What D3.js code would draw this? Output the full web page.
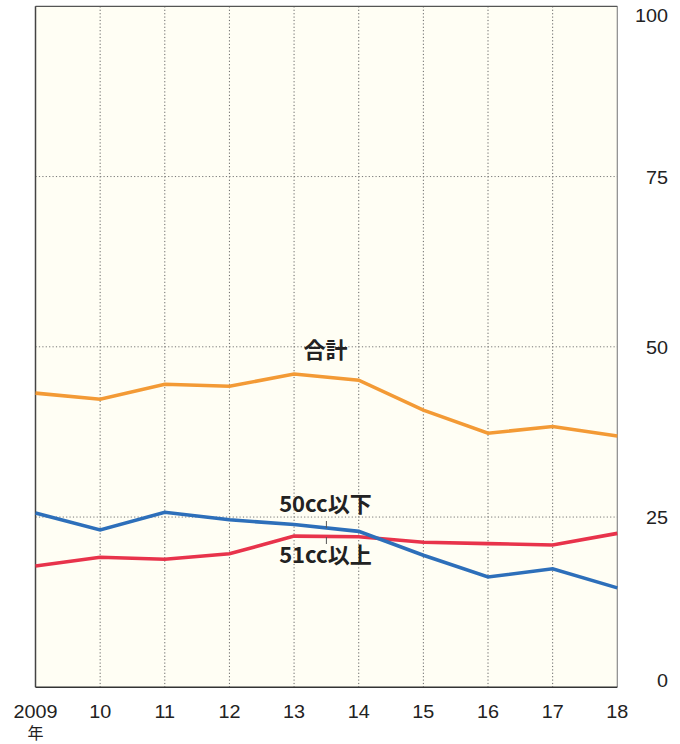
<!DOCTYPE html>
<html><head><meta charset="utf-8">
<script src="https://cdn.jsdelivr.net/npm/d3@7"></script>
<style>body{margin:0;background:#fff;}svg{display:block;}</style>
</head><body>
<script>
const years = ["2009","10","11","12","13","14","15","16","17","18"];
const total = [43.2,42.3,44.5,44.2,46.0,45.1,40.7,37.3,38.3,36.9];
const under50 = [25.6,23.1,25.7,24.6,23.9,22.9,19.4,16.2,17.4,14.6];
const over51 = [17.8,19.1,18.8,19.6,22.2,22.1,21.3,21.1,20.9,22.6];
const yTicks = [0,25,50,75,100];

const W=680,H=744, L=35.5, R=617.3, T=6.3, B=687.3;
const svg=d3.select("body").append("svg").attr("width",W).attr("height",H);
const x=d3.scalePoint().domain(years).range([L,R]);
const y=d3.scaleLinear().domain([0,100]).range([B,T]);

svg.append("rect").attr("x",L).attr("y",T).attr("width",R-L).attr("height",B-T).attr("fill","#fffef4");

// grid
const g=svg.append("g");
g.selectAll(".vg").data(years.slice(1,-1)).join("line")
 .attr("x1",d=>x(d)).attr("x2",d=>x(d)).attr("y1",T).attr("y2",B)
 .attr("stroke","#666").attr("stroke-width",1).attr("stroke-dasharray","1.2,2.2");
g.selectAll(".hg").data(yTicks.slice(1,-1)).join("line")
 .attr("x1",L).attr("x2",R).attr("y1",d=>y(d)).attr("y2",d=>y(d))
 .attr("stroke","#777").attr("stroke-width",1).attr("stroke-dasharray","1.2,2.2");

// borders
svg.append("line").attr("x1",R).attr("x2",R).attr("y1",T).attr("y2",B).attr("stroke","#8a8a8a").attr("stroke-width",1.2);
svg.append("line").attr("x1",L).attr("x2",R).attr("y1",T).attr("y2",T).attr("stroke","#555").attr("stroke-width",1.2);
svg.append("line").attr("x1",L).attr("x2",L).attr("y1",T).attr("y2",B).attr("stroke","#444").attr("stroke-width",1.5);
svg.append("line").attr("x1",L).attr("x2",R).attr("y1",B).attr("y2",B).attr("stroke","#333").attr("stroke-width",1.5);

// lines
const line=d3.line().x((d,i)=>x(years[i])).y(d=>y(d));
const series=[{v:total,c:"#f39a35"},{v:over51,c:"#e8334b"},{v:under50,c:"#2d6fba"}];
svg.selectAll(".ln").data(series).join("path")
 .attr("d",d=>line(d.v)).attr("fill","none").attr("stroke",d=>d.c)
 .attr("stroke-width",3.6).attr("stroke-linejoin","miter");

// axis labels
const font="'Liberation Sans', Arial, Helvetica, sans-serif";
svg.selectAll(".xl").data(years).join("text")
 .attr("transform",d=>`translate(${x(d)},718) scale(1.1,1)`).attr("text-anchor","middle")
 .attr("font-family",font).attr("font-size",18).attr("fill","#222").text(d=>d);
svg.append("text").attr("x",x("2009")).attr("y",739).attr("text-anchor","middle")
 .attr("font-family","'Noto Sans CJK JP', sans-serif").attr("font-size",16).attr("fill","#222").text("年");
svg.selectAll(".yl").data(yTicks).join("text")
 .attr("transform",d=>`translate(668,${d===0?687:d===100?21.7:y(d)+7}) scale(1.1,1)`)
 .attr("text-anchor","end").attr("font-family",font).attr("font-size",18).attr("fill","#222").text(d=>d);

// series labels
const jp="'Noto Sans CJK JP', sans-serif";
const mx=(x("13")+x("14"))/2;
const lab=[{t:"合計",x:mx-1,y:358},{t:"50cc以下",x:mx-1,y:512},{t:"51cc以上",x:mx-1,y:563}];
svg.selectAll(".sl").data(lab).join("text")
 .attr("x",d=>d.x).attr("y",d=>d.y).attr("text-anchor","middle").attr("font-family",jp)
 .attr("font-weight","bold").attr("font-size",22).attr("fill","#222").text(d=>d.t);
svg.append("line").attr("x1",mx).attr("x2",mx).attr("y1",521).attr("y2",528).attr("stroke","#555").attr("stroke-width",1);
svg.append("line").attr("x1",mx).attr("x2",mx).attr("y1",537).attr("y2",544).attr("stroke","#555").attr("stroke-width",1);
</script>
</body></html>
